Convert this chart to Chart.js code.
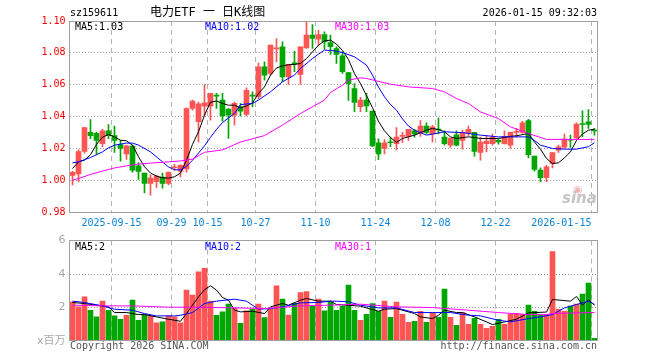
<!DOCTYPE html>
<html>
<head>
<meta charset="utf-8">
<script src="https://cdn.jsdelivr.net/npm/chart.js@4.4.1/dist/chart.umd.min.js"></script>
<style>
  body { margin: 0; background: #fff; }
  #wrap { position: relative; width: 660px; height: 360px; overflow: hidden;
          font-family: "DejaVu Sans Mono", "Liberation Mono", "Noto Sans CJK SC", monospace; font-size: 10px; }
  canvas { position: absolute; left: 0; }
  #priceChart { top: 0; }
  #volChart { top: 230px; }
  .txt { position: absolute; white-space: pre; line-height: 10px; color: #000; }
</style>
</head>
<body>
<div id="wrap">
  <canvas id="priceChart" width="660" height="232"></canvas>
  <canvas id="volChart" width="660" height="130"></canvas>

  <div class="txt" style="left:70px;top:8px;">sz159611</div>
  <div class="txt" style="left:150px;top:6px;font-size:12px;line-height:12px;">电力ETF 一 日K线图</div>
  <div class="txt" style="right:63px;top:8px;">2026-01-15 09:32:03</div>

  <div class="txt" style="left:75px;top:22px;">MA5:1.03</div>
  <div class="txt" style="left:205px;top:22px;color:#0000ff;">MA10:1.02</div>
  <div class="txt" style="left:335px;top:22px;color:#ff00ff;">MA30:1.03</div>

  <div class="txt" style="left:75px;top:242px;">MA5:2</div>
  <div class="txt" style="left:205px;top:242px;color:#0000ff;">MA10:2</div>
  <div class="txt" style="left:335px;top:242px;color:#ff00ff;">MA30:1</div>

  <div class="txt" style="left:573px;top:184px;font:11px 'DejaVu Sans';line-height:11px;color:#f2b4b4;">◉</div>
  <div class="txt" style="left:562px;top:191px;font:italic bold 15px 'DejaVu Sans';line-height:15px;color:#c4c4c4;">sina</div>

  <div class="txt" style="left:70px;top:341px;color:#555;">Copyright 2026 SINA.COM</div>
  <div class="txt" style="right:63px;top:341px;color:#555;">http://finance.sina.com.cn</div>
</div>

<script>
// ---- 데이터 ----
const dates = ['2025-09-04','2025-09-05','2025-09-08','2025-09-09','2025-09-10','2025-09-11','2025-09-12','2025-09-15','2025-09-16','2025-09-17',
  '2025-09-18','2025-09-19','2025-09-22','2025-09-23','2025-09-24','2025-09-25','2025-09-26','2025-09-29','2025-09-30','2025-10-09',
  '2025-10-10','2025-10-13','2025-10-14','2025-10-15','2025-10-16','2025-10-17','2025-10-20','2025-10-21','2025-10-22','2025-10-23',
  '2025-10-24','2025-10-27','2025-10-28','2025-10-29','2025-10-30','2025-10-31','2025-11-03','2025-11-04','2025-11-05','2025-11-06',
  '2025-11-07','2025-11-10','2025-11-11','2025-11-12','2025-11-13','2025-11-14','2025-11-17','2025-11-18','2025-11-19','2025-11-20',
  '2025-11-21','2025-11-24','2025-11-25','2025-11-26','2025-11-27','2025-11-28','2025-12-01','2025-12-02','2025-12-03','2025-12-04',
  '2025-12-05','2025-12-08','2025-12-09','2025-12-10','2025-12-11','2025-12-12','2025-12-15','2025-12-16','2025-12-17','2025-12-18',
  '2025-12-19','2025-12-22','2025-12-23','2025-12-24','2025-12-25','2025-12-26','2025-12-29','2025-12-30','2025-12-31','2026-01-05',
  '2026-01-06','2026-01-07','2026-01-08','2026-01-09','2026-01-12','2026-01-13','2026-01-14','2026-01-15'];

const tickDates  = ['2025-09-15','2025-09-29','2025-10-15','2025-10-27','2025-11-10','2025-11-24','2025-12-08','2025-12-22','2026-01-15'];
const tickLabels = ['2025-09-15','09-29','10-15','10-27','11-10','11-24','12-08','12-22','2026-01-15'];

const opens = [1.003,1.004,1.018,1.030,1.0295,1.023,1.031,1.028,1.0224,1.0165,
  1.0214,1.009,1.0045,0.998,0.999,1.002,0.998,1.0078,1.0057,1.007,
  1.045,1.0367,1.0465,1.0467,1.0532,1.0503,1.0446,1.0408,1.0461,1.0413,
  1.0532,1.0524,1.0712,1.067,1.0825,1.0838,1.0649,1.0735,1.0664,1.0831,
  1.0911,1.0886,1.0915,1.0865,1.0827,1.0781,1.0676,1.0576,1.0461,1.0503,
  1.0434,1.0235,1.020,1.0238,1.023,1.0275,1.0275,1.031,1.0295,1.034,
  1.029,1.0318,1.027,1.022,1.0285,1.025,1.0295,1.030,1.0175,1.023,
  1.023,1.025,1.023,1.022,1.030,1.030,1.0375,1.0151,1.0063,1.0015,
  1.0105,1.0189,1.0207,1.0256,1.0266,1.0354,1.0367,1.0312];
const closes = [1.005,1.018,1.033,1.028,1.025,1.031,1.028,1.025,1.0199,1.0215,
  1.0063,1.0055,0.998,1.0013,1.0025,0.998,1.005,1.0082,1.0094,1.045,
  1.0497,1.048,1.0486,1.0545,1.0528,1.0404,1.0408,1.0482,1.0434,1.0565,
  1.0528,1.0712,1.066,1.0848,1.0828,1.0649,1.0727,1.0731,1.0838,1.0911,
  1.089,1.0915,1.0869,1.0838,1.079,1.0681,1.0607,1.0488,1.0503,1.0467,
  1.0215,1.0165,1.0235,1.0235,1.027,1.0278,1.032,1.029,1.034,1.030,
  1.0335,1.0315,1.023,1.0265,1.022,1.030,1.032,1.018,1.024,1.0245,
  1.027,1.024,1.0275,1.030,1.0303,1.036,1.016,1.0067,1.0015,1.0084,
  1.0174,1.0209,1.0258,1.0251,1.0352,1.035,1.035,1.0309];
const highs = [1.0055,1.019,1.033,1.038,1.030,1.032,1.035,1.034,1.025,1.022,
  1.022,1.011,1.0045,1.0035,1.003,1.0045,1.0052,1.010,1.0096,1.0455,
  1.0503,1.049,1.060,1.0545,1.0545,1.0545,1.045,1.049,1.0482,1.058,
  1.0555,1.0735,1.0743,1.0848,1.089,1.0869,1.0727,1.081,1.0838,1.0995,
  1.0978,1.0942,1.0932,1.0911,1.0838,1.0806,1.0676,1.0607,1.052,1.0545,
  1.0434,1.026,1.0255,1.027,1.033,1.030,1.032,1.032,1.0375,1.036,
  1.0345,1.039,1.031,1.0265,1.031,1.0315,1.034,1.030,1.027,1.028,
  1.029,1.0258,1.031,1.030,1.0325,1.037,1.0383,1.0151,1.0077,1.0094,
  1.0174,1.022,1.0289,1.0283,1.036,1.0435,1.0444,1.0325];
const lows = [0.997,0.999,1.017,1.026,1.016,1.021,1.026,1.0175,1.012,1.013,
  1.005,1.0005,0.992,0.9905,0.9955,0.995,0.997,1.006,1.002,1.005,
  1.044,1.024,1.0404,1.0377,1.045,1.0371,1.0262,1.0346,1.0404,1.0404,
  1.046,1.051,1.0628,1.066,1.0743,1.0618,1.0601,1.0681,1.0601,1.0827,
  1.0827,1.0848,1.0823,1.079,1.0733,1.067,1.0501,1.043,1.043,1.043,
  1.021,1.0128,1.0165,1.021,1.019,1.0235,1.025,1.027,1.0275,1.029,
  1.024,1.029,1.022,1.0205,1.0215,1.0195,1.028,1.015,1.0126,1.0178,
  1.022,1.0226,1.0226,1.020,1.027,1.0295,1.014,1.0057,0.999,0.999,
  1.0077,1.0174,1.0199,1.0205,1.0262,1.0272,1.0325,1.0283];

// 거래량 (백만)
const volumes = [2.34,2.04,2.64,1.84,1.44,2.38,1.84,1.5,1.3,1.54,
  2.44,1.24,1.58,1.5,1.08,1.14,1.5,1.44,1.08,3.04,
  2.74,4.14,4.34,2.38,1.54,1.74,2.2,1.95,1.05,1.8,
  1.9,2.2,1.4,1.9,3.3,2.5,1.55,2.25,2.9,2.95,
  2.1,2.5,1.8,2.34,1.84,2.08,3.34,1.84,1.24,1.6,
  2.24,1.78,2.38,1.42,2.32,1.6,1.12,1.18,1.78,1.12,
  1.7,1.42,3.1,1.42,0.94,1.7,1.0,1.36,1.0,0.76,
  0.88,1.3,1.0,1.6,1.66,1.6,2.14,1.78,1.54,1.58,
  5.34,1.9,1.78,2.08,2.2,2.8,3.46,0.16];

// 이동평균선: [캔들 인덱스, 값] - 그림에서 읽은 점들 (사이는 선으로 이음)
const ma5Pts = [[0,1.0073],[1,1.0115],[2,1.0126],[3,1.016],[4,1.0225],[5,1.027],[6,1.0287],[7,1.0272],[8,1.0251],[9,1.0247],
  [10,1.022],[11,1.0147],[12,1.0084],[13,1.0045],[14,1.0025],[15,1.0015],[16,1.0013],[17,1.0021],[18,1.0045],[19,1.0125],
  [20,1.0225],[21,1.0304],[22,1.0408],[23,1.049],[24,1.0497],[25,1.0482],[26,1.0471],[27,1.0471],[28,1.0455],[29,1.0466],
  [30,1.0485],[31,1.0545],[32,1.0586],[33,1.066],[34,1.0705],[35,1.0718],[36,1.0725],[37,1.0727],[38,1.0733],[39,1.0764],
  [41,1.0848],[42,1.0875],[43,1.088],[44,1.0855],[45,1.0815],[46,1.0758],[47,1.067],[48,1.0607],[50,1.0456],[51,1.037],
  [52,1.031],[53,1.0268],[54,1.0237],[55,1.0262],[57,1.0283],[59,1.0314],[60,1.0325],[61,1.0318],[62,1.0304],[63,1.0272],
  [64,1.0262],[66,1.0272],[67,1.0268],[68,1.0262],[71,1.0262],[73,1.0275],[74,1.0279],[76,1.0293],[77,1.024],[78,1.0195],
  [79,1.0137],[80,1.0104],[81,1.0109],[82,1.014],[83,1.0178],[84,1.0249],[85,1.029],[86,1.0314],[87,1.032]];
const ma10Pts = [[0,1.0109],[1,1.0115],[3,1.0142],[4,1.016],[5,1.0178],[6,1.0203],[7,1.022],[9,1.0233],[10,1.0233],[11,1.022],
  [13,1.0178],[15,1.0115],[16,1.0083],[17,1.0066],[18,1.0064],[19,1.0087],[20,1.0125],[21,1.017],[22,1.0216],[23,1.0269],
  [24,1.0319],[25,1.0362],[27,1.0419],[28,1.0475],[30,1.0482],[31,1.0503],[33,1.0555],[35,1.0618],[37,1.066],[38,1.0702],
  [40,1.0764],[41,1.0792],[42,1.0817],[43,1.0815],[44,1.081],[45,1.0802],[47,1.0775],[49,1.0723],[50,1.066],[51,1.0585],
  [52,1.0524],[53,1.0475],[54,1.044],[55,1.0385],[56,1.034],[57,1.0314],[59,1.0283],[60,1.0289],[62,1.0304],[64,1.03],
  [65,1.0299],[68,1.0283],[71,1.0272],[74,1.0272],[76,1.0272],[77,1.025],[78,1.022],[80,1.0199],[82,1.0195],[84,1.0195],
  [86,1.021],[87,1.0235]];
const ma30Pts = [[0,1.0],[1,1.001],[3,1.0036],[5,1.0057],[7,1.0077],[9,1.009],[11,1.0101],[13,1.0107],[16,1.0115],[18,1.0121],
  [20,1.0132],[22,1.0175],[25,1.019],[28,1.024],[32,1.028],[35,1.0346],[38,1.0419],[42,1.0503],[43,1.0551],[45,1.0597],
  [46,1.0628],[48,1.0643],[49,1.0639],[50,1.063],[53,1.0603],[56,1.0586],[60,1.0576],[62,1.0555],[64,1.0513],[66,1.0482],
  [68,1.0429],[71,1.0387],[73,1.0335],[76,1.0293],[79,1.0256],[82,1.0256],[87,1.0256]];

const volMa5Pts = [[0,2.3],[2,2.24],[4,2.14],[6,2.04],[7,1.7],[9,1.7],[11,1.58],[12,1.58],[14,1.44],[16,1.3],
  [17,1.24],[18,1.18],[19,1.64],[21,2.64],[22,3.07],[23,3.3],[24,3.04],[25,2.6],[26,2.44],[27,1.84],
  [28,1.74],[30,1.78],[32,1.64],[33,2.04],[35,2.24],[36,2.14],[38,2.44],[39,2.54],[41,2.38],[43,2.38],
  [44,2.18],[46,2.14],[48,2.08],[51,1.78],[52,1.9],[54,1.94],[57,1.64],[58,1.44],[60,1.34],[61,1.54],
  [62,1.84],[64,1.7],[65,1.7],[67,1.44],[69,1.14],[70,0.98],[72,1.14],[74,1.3],[76,1.68],[79,1.73],
  [80,2.48],[83,2.38],[84,2.66],[85,2.15],[86,2.46],[87,2.14]];
const volMa10Pts = [[0,2.38],[2,2.3],[5,2.1],[7,1.9],[10,1.84],[12,1.64],[14,1.5],[17,1.5],[18,1.54],[20,1.7],
  [22,2.24],[24,2.38],[27,2.5],[29,2.38],[31,1.9],[33,1.94],[35,2.04],[38,2.28],[41,2.3],[43,2.38],
  [44,2.38],[46,2.34],[48,2.14],[51,1.98],[54,1.98],[57,1.7],[60,1.7],[63,1.7],[66,1.54],[68,1.5],
  [71,1.24],[73,1.14],[76,1.34],[78,1.44],[80,1.58],[82,1.98],[84,2.18],[86,2.38],[87,2.18]];
const volMa30Pts = [[0,2.14],[5,2.1],[10,2.1],[16,2.02],[21,2.02],[27,1.98],[32,1.94],[38,2.1],[43,2.14],[48,2.2],
  [54,2.04],[60,2.0],[66,1.84],[71,1.7],[76,1.58],[79,1.58],[80,1.64],[86,1.7],[87,1.7]];

// ---- 스타일 ----
const MONO = '"DejaVu Sans Mono", "Liberation Mono", monospace';
const RED = '#ff5454';
const GREEN = '#00a600';
const candleColors = closes.map((c, i) => c >= opens[i] ? RED : GREEN);

// 인덱스별 배열로 바꿈 (빈 곳은 null → spanGaps 로 이어 그림)
function toSeries(pts) {
  const arr = dates.map(() => null);
  pts.forEach(p => { arr[p[0]] = p[1]; });
  return arr;
}

// 차트 영역 테두리
const framePlugin = {
  id: 'frame',
  afterDraw(chart) {
    const a = chart.chartArea;
    const ctx = chart.ctx;
    ctx.save();
    ctx.strokeStyle = '#a0a0a0';
    ctx.lineWidth = 1;
    ctx.strokeRect(Math.floor(a.left) + 0.5, Math.floor(a.top) + 0.5,
      Math.round(a.right - a.left), Math.round(a.bottom - a.top));
    ctx.restore();
  }
};

function dateAxis(showLabels, height) {
  return {
    type: 'category',
    offset: true,
    grid: {
      offset: true,
      drawTicks: false,
      color: c => tickDates.includes(dates[c.index]) ? '#b4b4b4' : 'rgba(0,0,0,0)'
    },
    border: { display: false, dash: [5, 4] },
    ticks: {
      display: showLabels,
      autoSkip: false,
      maxRotation: 0,
      minRotation: 0,
      padding: 5,
      labelOffset: -3,
      color: '#0a84d8',
      font: { family: MONO, size: 10 },
      callback: (v, i) => {
        const k = tickDates.indexOf(dates[i]);
        if (k < 0) return '';
        // 마지막 라벨은 오른쪽 정렬처럼 보이도록 공백으로 채움
        return i === dates.length - 1 ? tickLabels[k] + ' '.repeat(tickLabels[k].length) : tickLabels[k];
      }
    },
    afterFit: s => { s.height = height; }
  };
}

function maLine(pts, color) {
  return {
    type: 'line',
    data: toSeries(pts),
    borderColor: color,
    borderWidth: 1,
    pointRadius: 0,
    tension: 0,
    spanGaps: true,
    fill: false,
    order: 0
  };
}

// ---- 가격 (K선) 차트 ----
new Chart(document.getElementById('priceChart'), {
  type: 'bar',
  data: {
    labels: dates,
    datasets: [
      {
        data: lows.map((l, i) => [l, highs[i]]),
        backgroundColor: candleColors,
        barThickness: 1,
        minBarLength: 1,
        grouped: false,
        order: 2
      },
      {
        data: opens.map((o, i) => [o, closes[i]]),
        backgroundColor: candleColors,
        barThickness: 5,
        minBarLength: 1,
        grouped: false,
        order: 1
      },
      maLine(ma30Pts, '#ff00ff'),
      maLine(ma10Pts, '#0000ff'),
      maLine(ma5Pts, '#000000')
    ]
  },
  options: {
    responsive: false,
    animation: false,
    events: [],
    layout: { padding: { top: 21, right: 62.5, left: 0, bottom: 0 } },
    plugins: { legend: { display: false }, tooltip: { enabled: false } },
    scales: {
      x: dateAxis(true, 20),
      y: {
        min: 0.98,
        max: 1.10,
        grid: {
          drawTicks: false,
          color: c => (Math.abs(c.tick.value - 0.98) < 1e-6 || Math.abs(c.tick.value - 1.10) < 1e-6) ? 'rgba(0,0,0,0)' : '#a0a0a0'
        },
        border: { display: false, dash: [1, 2] },
        ticks: {
          stepSize: 0.02,
          padding: 4,
          color: '#ff0000',
          font: { family: MONO, size: 10 },
          callback: v => v.toFixed(2)
        },
        afterFit: s => { s.width = 69.5; }
      }
    }
  },
  plugins: [framePlugin]
});

// ---- 거래량 차트 ----
new Chart(document.getElementById('volChart'), {
  type: 'bar',
  data: {
    labels: dates,
    datasets: [
      {
        data: volumes,
        backgroundColor: candleColors,
        barThickness: 5,
        grouped: false,
        order: 1
      },
      maLine(volMa30Pts, '#ff00ff'),
      maLine(volMa10Pts, '#0000ff'),
      maLine(volMa5Pts, '#000000')
    ]
  },
  options: {
    responsive: false,
    animation: false,
    events: [],
    layout: { padding: { top: 10, right: 62.5, left: 0, bottom: 0 } },
    plugins: { legend: { display: false }, tooltip: { enabled: false } },
    scales: {
      x: dateAxis(false, 19),
      y: {
        min: 0,
        max: 6,
        grid: {
          drawTicks: false,
          color: c => (c.tick.value === 0 || c.tick.value === 6) ? 'rgba(0,0,0,0)' : '#a0a0a0'
        },
        border: { display: false, dash: [1, 2] },
        ticks: {
          stepSize: 2,
          padding: 4,
          color: '#a8a8a8',
          font: { family: '"DejaVu Sans", "Noto Sans CJK SC", sans-serif', size: 11 },
          callback: v => v === 0 ? 'x百万' : String(v)
        },
        afterFit: s => { s.width = 69.5; }
      }
    }
  },
  plugins: [framePlugin]
});
</script>
</body>
</html>
